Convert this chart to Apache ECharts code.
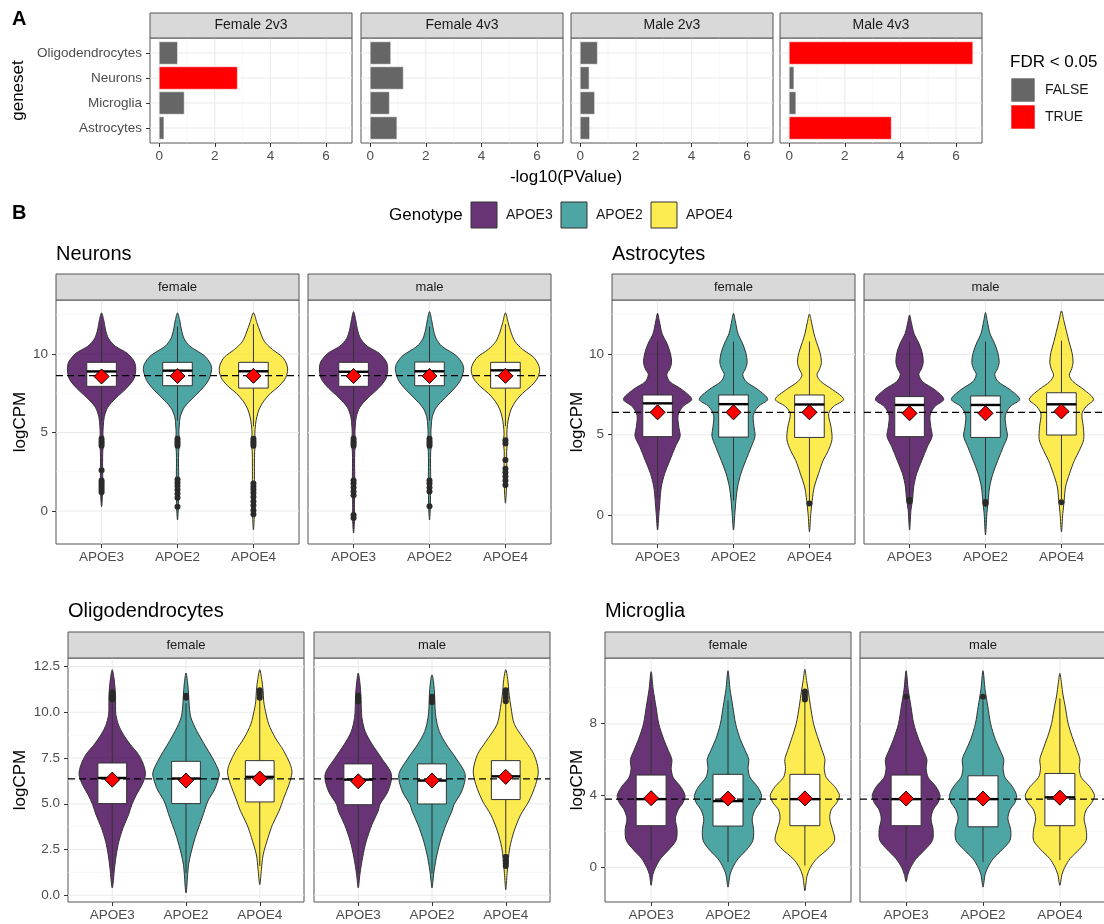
<!DOCTYPE html>
<html>
<head>
<meta charset="utf-8">
<script src="https://cdn.jsdelivr.net/npm/echarts@6/dist/echarts.min.js"></script>
<style>
  html, body { margin: 0; padding: 0; background: #ffffff; }
  #chart { width: 1104px; height: 924px; }
</style>
</head>
<body>
<div id="chart"></div>
<script>
// ---------------- Panel A: gene-set enrichment, -log10(PValue) ----------------
const genesets = ['Astrocytes', 'Microglia', 'Neurons', 'Oligodendrocytes']; // bottom -> top
const contrasts = ['Female 2v3', 'Female 4v3', 'Male 2v3', 'Male 4v3'];
const female2v3 = [0.17, 0.90, 2.81, 0.66];
const female4v3 = [0.96, 0.69, 1.19, 0.74];
const male2v3 = [0.34, 0.52, 0.32, 0.62];
const male4v3 = [3.67, 0.24, 0.17, 6.60];
const fdrFemale2v3 = [false, false, true, false];
const fdrFemale4v3 = [false, false, false, false];
const fdrMale2v3 = [false, false, false, false];
const fdrMale4v3 = [true, false, false, true];
const pvalTicks = [0, 2, 4, 6];
const pvalMinorTicks = [1, 3, 5];
const fdrLevels = ['FALSE', 'TRUE'];

// ---------------- Panel B: logCPM distributions by genotype ----------------
const genotypes = ['APOE3', 'APOE2', 'APOE4'];
const sexes = ['female', 'male'];

// Box stats per violin: [lower whisker, Q1, median, Q3, upper whisker]
// order: female APOE3, APOE2, APOE4, male APOE3, APOE2, APOE4
const neuronsBox = [
  [5.70, 7.94, 8.89, 9.47, 11.80],
  [5.75, 7.98, 8.94, 9.47, 11.75],
  [5.40, 7.83, 8.90, 9.47, 11.90],
  [5.70, 7.94, 8.87, 9.47, 11.80],
  [5.75, 7.98, 8.90, 9.49, 11.75],
  [5.40, 7.83, 8.96, 9.47, 11.90]
];
const neuronsMean = [8.57, 8.60, 8.61, 8.60, 8.60, 8.61];
const neuronsOverall = 8.62;
const neuronsOutliers = [
  [4.60, 4.45, 4.30, 4.15, 2.60, 1.95, 1.80, 1.65, 1.50, 1.35, 1.20],
  [4.60, 4.45, 4.30, 4.15, 2.00, 1.80, 1.60, 1.35, 1.10, 0.85, 0.28],
  [4.60, 4.45, 4.30, 4.15, 1.75, 1.55, 1.35, 1.15, 0.90, 0.60, 0.35, 0.05, -0.20],
  [4.60, 4.45, 4.30, 4.15, 1.95, 1.75, 1.50, 1.25, 1.00, -0.25, -0.45],
  [4.60, 4.45, 4.30, 4.15, 1.95, 1.75, 1.50, 1.25, 0.30],
  [4.50, 4.30, 3.25, 2.70, 2.45, 2.20, 1.95, 1.65]
];
// Violin outlines: [logCPM, relative half-width]
const neuronsViolin = [
  [[12.62,0],[12.2,0.06],[11.6,0.11],[11.0,0.2],[10.5,0.4],[10.05,0.75],[9.5,0.96],[9.0,1.0],[8.4,0.94],[7.8,0.72],[7.2,0.42],[6.6,0.18],[6.0,0.08],[5.4,0.05],[4.9,0.04],[4.4,0.06],[3.8,0.035],[3.0,0.03],[2.0,0.035],[1.2,0.03],[0.28,0]],
  [[12.62,0],[12.2,0.06],[11.6,0.11],[11.0,0.19],[10.5,0.36],[9.9,0.78],[9.4,0.96],[9.0,1.0],[8.3,0.9],[7.7,0.68],[7.2,0.45],[6.6,0.2],[6.0,0.08],[5.4,0.05],[4.9,0.04],[4.4,0.06],[3.8,0.035],[3.0,0.03],[2.0,0.035],[1.0,0.03],[0.0,0.02],[-0.57,0]],
  [[12.62,0],[12.0,0.1],[11.4,0.2],[10.8,0.32],[10.3,0.55],[9.8,0.85],[9.3,0.98],[8.9,1.0],[8.4,0.92],[7.9,0.72],[7.5,0.5],[7.0,0.3],[6.5,0.17],[6.0,0.1],[5.5,0.06],[4.9,0.04],[4.4,0.06],[3.8,0.035],[3.0,0.03],[2.0,0.03],[1.0,0.035],[0.0,0.03],[-1.2,0]],
  [[12.7,0],[12.2,0.06],[11.6,0.11],[11.0,0.2],[10.5,0.4],[10.05,0.75],[9.5,0.96],[9.0,1.0],[8.4,0.94],[7.8,0.72],[7.2,0.42],[6.6,0.18],[6.0,0.08],[5.4,0.05],[4.9,0.04],[4.4,0.06],[3.8,0.035],[3.0,0.03],[2.0,0.035],[1.2,0.03],[0.2,0.025],[-0.4,0.03],[-1.4,0]],
  [[12.7,0],[12.2,0.06],[11.6,0.11],[11.0,0.19],[10.5,0.36],[9.9,0.78],[9.4,0.96],[9.0,1.0],[8.3,0.9],[7.7,0.68],[7.2,0.45],[6.6,0.2],[6.0,0.08],[5.4,0.05],[4.9,0.04],[4.4,0.06],[3.8,0.035],[3.0,0.03],[2.0,0.035],[1.0,0.03],[0.0,0.02],[-0.57,0]],
  [[12.62,0],[12.0,0.08],[11.4,0.16],[10.8,0.28],[10.3,0.5],[9.8,0.82],[9.3,0.97],[8.9,1.0],[8.4,0.92],[7.9,0.72],[7.5,0.5],[7.0,0.3],[6.5,0.17],[6.0,0.1],[5.5,0.06],[4.9,0.04],[4.4,0.06],[3.8,0.035],[3.0,0.04],[2.2,0.04],[1.4,0.03],[0.5,0]]
];
const neuronsTicks = [0, 5, 10];
const neuronsMinorTicks = [2.5, 7.5, 12.5];

const astroBox = [
  [1.00, 4.88, 6.95, 7.47, 10.80],
  [0.90, 4.85, 6.90, 7.47, 10.80],
  [0.85, 4.83, 6.88, 7.47, 10.80],
  [1.15, 4.88, 6.85, 7.37, 10.75],
  [1.00, 4.83, 6.85, 7.41, 10.80],
  [1.00, 4.98, 6.89, 7.61, 10.85]
];
const astroMean = [6.39, 6.39, 6.39, 6.33, 6.33, 6.45];
const astroOverall = 6.39;
const astroOutliers = [[], [], [0.72], [0.95, 0.85], [0.82, 0.70], [0.80]];
const astroViolin = [
  [[12.55,0],[12.1,0.05],[11.3,0.13],[10.7,0.27],[10.1,0.37],[9.5,0.41],[9.1,0.36],[8.75,0.27],[8.3,0.36],[7.8,0.72],[7.2,1.0],[6.75,0.74],[6.2,0.6],[5.5,0.62],[4.9,0.66],[4.25,0.52],[3.4,0.36],[2.6,0.21],[1.75,0.11],[0.9,0.07],[0.1,0.04],[-0.93,0]],
  [[12.55,0],[12.1,0.05],[11.3,0.13],[10.7,0.26],[10.1,0.36],[9.5,0.4],[9.1,0.35],[8.75,0.27],[8.3,0.37],[7.8,0.72],[7.2,1.0],[6.75,0.72],[6.2,0.58],[5.5,0.6],[4.9,0.63],[4.25,0.52],[3.4,0.36],[2.6,0.22],[1.75,0.12],[0.9,0.07],[0.1,0.04],[-0.93,0]],
  [[12.5,0],[12.0,0.06],[11.3,0.13],[10.8,0.2],[10.1,0.31],[9.5,0.35],[9.1,0.3],[8.7,0.22],[8.3,0.34],[7.8,0.68],[7.2,1.0],[6.75,0.7],[6.3,0.56],[5.5,0.63],[4.7,0.66],[4.0,0.55],[3.4,0.4],[2.6,0.27],[1.75,0.14],[0.9,0.08],[0.1,0.04],[-1.04,0]],
  [[12.45,0],[12.0,0.05],[11.3,0.13],[10.7,0.27],[10.1,0.37],[9.5,0.4],[9.1,0.35],[8.75,0.27],[8.3,0.38],[7.8,0.74],[7.2,1.0],[6.75,0.74],[6.2,0.6],[5.5,0.62],[4.9,0.66],[4.25,0.52],[3.4,0.36],[2.6,0.21],[1.75,0.12],[1.0,0.09],[0.3,0.04],[-0.93,0]],
  [[12.6,0],[12.1,0.05],[11.3,0.13],[10.7,0.26],[10.1,0.36],[9.5,0.4],[9.1,0.35],[8.75,0.27],[8.3,0.37],[7.8,0.72],[7.2,1.0],[6.75,0.72],[6.2,0.58],[5.5,0.6],[4.9,0.64],[4.25,0.52],[3.4,0.36],[2.6,0.22],[1.75,0.12],[0.9,0.08],[0.1,0.04],[-1.24,0]],
  [[12.7,0],[12.1,0.07],[11.4,0.15],[10.8,0.22],[10.1,0.31],[9.5,0.34],[9.1,0.3],[8.7,0.23],[8.3,0.34],[7.8,0.66],[7.2,0.94],[6.75,0.72],[6.3,0.6],[5.5,0.64],[4.7,0.65],[4.0,0.52],[3.4,0.38],[2.6,0.24],[1.75,0.12],[0.9,0.08],[0.1,0.04],[-1.04,0]]
];
const astroTicks = [0, 5, 10];
const astroMinorTicks = [2.5, 7.5, 12.5];

const oligoBox = [
  [1.30, 5.01, 6.41, 7.23, 10.50],
  [1.20, 5.01, 6.38, 7.32, 10.50],
  [1.60, 5.10, 6.47, 7.36, 10.70],
  [1.20, 4.95, 6.32, 7.18, 10.50],
  [1.20, 4.99, 6.27, 7.18, 10.40],
  [2.30, 5.23, 6.50, 7.36, 10.50]
];
const oligoMean = [6.32, 6.27, 6.38, 6.23, 6.27, 6.47];
const oligoOverall = 6.36;
const oligoOutliers = [
  [10.70, 10.80, 10.90, 11.00, 11.10],
  [10.80, 10.90],
  [10.80, 10.95, 11.10, 11.20],
  [10.60, 10.75, 10.90],
  [10.55, 10.70, 10.85],
  [10.60, 10.80, 11.00, 11.20, 2.10, 1.90, 1.75, 1.60]
];
const oligoViolin = [
  [[12.33,0],[11.9,0.05],[11.4,0.08],[10.9,0.1],[10.3,0.1],[9.85,0.11],[9.3,0.19],[8.8,0.33],[8.25,0.54],[7.7,0.79],[7.15,0.94],[6.6,1.0],[6.05,0.9],[5.5,0.73],[4.95,0.59],[4.4,0.49],[3.7,0.33],[2.95,0.2],[2.2,0.12],[1.5,0.07],[0.4,0]],
  [[12.15,0],[11.6,0.05],[10.9,0.08],[10.3,0.1],[9.7,0.15],[9.0,0.32],[8.2,0.57],[7.5,0.8],[6.7,1.0],[6.2,0.95],[5.7,0.84],[5.15,0.66],[4.25,0.49],[3.5,0.34],[2.8,0.22],[1.7,0.08],[0.13,0]],
  [[12.33,0],[11.8,0.06],[11.2,0.1],[10.6,0.12],[10.25,0.15],[9.35,0.27],[8.6,0.47],[7.9,0.72],[7.15,0.92],[6.7,0.97],[6.05,0.88],[5.3,0.72],[4.6,0.58],[3.85,0.38],[3.15,0.25],[2.2,0.1],[1.4,0.05],[0.58,0]],
  [[12.15,0],[11.6,0.05],[10.9,0.08],[10.3,0.09],[9.7,0.11],[8.95,0.21],[8.25,0.42],[7.5,0.7],[6.6,1.0],[5.7,0.9],[4.95,0.65],[4.6,0.6],[3.85,0.41],[2.95,0.24],[2.05,0.13],[1.15,0.05],[0.4,0]],
  [[12.05,0],[11.6,0.05],[10.9,0.08],[10.3,0.09],[9.7,0.12],[8.95,0.22],[8.25,0.43],[7.5,0.72],[6.6,1.0],[5.7,0.9],[4.95,0.66],[4.6,0.6],[3.85,0.42],[2.95,0.25],[2.05,0.13],[1.15,0.05],[0.4,0]],
  [[12.33,0],[11.8,0.06],[11.0,0.1],[10.25,0.16],[9.35,0.26],[8.4,0.6],[7.7,0.85],[6.8,0.98],[6.05,0.9],[5.15,0.7],[4.4,0.45],[3.5,0.25],[2.6,0.12],[2.0,0.08],[1.2,0.04],[0.31,0]]
];
const oligoTicks = [0, 2.5, 5, 7.5, 10, 12.5];
const oligoMinorTicks = [1.25, 3.75, 6.25, 8.75, 11.25];

const microBox = [
  [0.40, 2.32, 3.80, 5.14, 9.30],
  [0.30, 2.30, 3.69, 5.18, 9.30],
  [0.10, 2.32, 3.80, 5.18, 9.20],
  [0.40, 2.32, 3.80, 5.14, 9.30],
  [0.30, 2.26, 3.80, 5.10, 9.30],
  [0.40, 2.32, 3.90, 5.23, 9.40]
];
const microMean = [3.85, 3.83, 3.84, 3.83, 3.83, 3.88];
const microOverall = 3.80;
const microOutliers = [[], [], [9.35, 9.50, 9.65, 9.80], [9.50], [9.50], []];
const microViolin = [
  [[10.9,0],[9.9,0.06],[8.95,0.14],[8.0,0.22],[7.1,0.37],[6.5,0.5],[6.0,0.6],[5.5,0.58],[5.0,0.64],[4.5,0.85],[4.0,0.98],[3.6,0.92],[3.2,0.78],[2.7,0.7],[2.1,0.75],[1.5,0.72],[1.0,0.52],[0.5,0.28],[0.0,0.13],[-0.4,0.05],[-1.0,0]],
  [[10.95,0],[9.9,0.06],[8.95,0.14],[8.0,0.22],[7.1,0.36],[6.5,0.5],[6.0,0.6],[5.5,0.58],[5.0,0.64],[4.5,0.85],[4.0,0.97],[3.6,0.92],[3.2,0.78],[2.7,0.7],[2.1,0.74],[1.5,0.72],[1.0,0.55],[0.5,0.3],[0.0,0.14],[-0.4,0.06],[-1.1,0]],
  [[11.03,0],[10.4,0.05],[9.8,0.1],[9.0,0.16],[8.0,0.25],[7.3,0.36],[6.5,0.5],[6.0,0.58],[5.5,0.56],[5.0,0.62],[4.5,0.86],[4.0,1.0],[3.6,0.92],[3.2,0.76],[2.7,0.72],[2.1,0.8],[1.5,0.86],[1.0,0.65],[0.5,0.35],[0.0,0.16],[-0.5,0.06],[-1.3,0]],
  [[10.95,0],[9.9,0.06],[8.95,0.14],[8.0,0.22],[7.1,0.37],[6.5,0.5],[6.0,0.6],[5.5,0.58],[5.0,0.64],[4.5,0.86],[4.0,0.98],[3.6,0.92],[3.2,0.78],[2.7,0.72],[2.1,0.78],[1.5,0.76],[1.0,0.55],[0.5,0.3],[0.0,0.13],[-0.4,0.05],[-0.8,0]],
  [[10.95,0],[9.9,0.06],[8.95,0.14],[8.0,0.22],[7.1,0.36],[6.5,0.5],[6.0,0.6],[5.5,0.58],[5.0,0.64],[4.5,0.85],[4.0,0.97],[3.6,0.92],[3.2,0.78],[2.7,0.72],[2.1,0.8],[1.5,0.78],[1.0,0.56],[0.5,0.3],[0.0,0.14],[-0.4,0.06],[-1.1,0]],
  [[10.8,0],[10.2,0.05],[9.6,0.09],[9.0,0.15],[8.0,0.24],[7.3,0.35],[6.5,0.5],[6.0,0.58],[5.5,0.56],[5.0,0.62],[4.5,0.86],[4.0,1.0],[3.6,0.92],[3.2,0.76],[2.7,0.7],[2.1,0.76],[1.5,0.76],[1.0,0.56],[0.5,0.3],[0.0,0.14],[-0.4,0.06],[-1.0,0]]
];
const microTicks = [0, 4, 8];
const microMinorTicks = [2, 6, 10];

// ---------------- styling ----------------
const FONT = '"Liberation Sans", Arial, Helvetica, sans-serif';
const GENO_FILLS = ['rgba(68,1,84,0.8)', 'rgba(33,144,140,0.8)', 'rgba(253,231,37,0.8)'];
const FDR_COLORS = ['#666666', '#FF0000'];
const GRID_MAJOR = '#ebebeb';
const GRID_MINOR = '#f3f3f3';
const BORDER = '#555555';
const STRIP_FILL = '#d9d9d9';
const VIOLIN_HALF = 0.45;
const BOX_HALF = 0.195;
const BAR_HALF = 0.45;
const TICK_FONT = 13.5;

const grids = [];
const xAxes = [];
const yAxes = [];
const series = [];
const graphics = [];

function addGrid(left, top, width, height) {
  grids.push({ left, top, width, height, show: true, borderColor: BORDER, borderWidth: 1,
    backgroundColor: 'transparent', containLabel: false, outerBoundsMode: 'none' });
  return grids.length - 1;
}

function valueAxis(gi, min, max, ticks, fmt, showLabels, showTicks, margin) {
  return {
    type: 'value', gridIndex: gi, min, max, scale: true,
    axisLine: { show: false, onZero: false },
    splitLine: { show: false },
    minorSplitLine: { show: false },
    axisTick: { show: showTicks, length: 4, customValues: ticks, lineStyle: { color: '#333333', width: 1 } },
    axisLabel: { show: showLabels, customValues: ticks, formatter: fmt, margin,
      color: '#4d4d4d', fontSize: TICK_FONT, fontFamily: FONT, hideOverlap: false }
  };
}

// background grid lines: kind 0 = x major, 1 = x minor, 2 = y major, 3 = y minor
function gridLineSeries(gi, xMajor, xMinor, yMajor, yMinor) {
  const data = [];
  xMinor.forEach(v => data.push([v, 1]));
  yMinor.forEach(v => data.push([v, 3]));
  xMajor.forEach(v => data.push([v, 0]));
  yMajor.forEach(v => data.push([v, 2]));
  return {
    type: 'custom', xAxisIndex: gi, yAxisIndex: gi, z: 1, silent: true, data,
    renderItem(params, api) {
      const cs = params.coordSys;
      const v = api.value(0), k = api.value(1);
      let shape;
      if (k < 2) {
        const x = api.coord([v, 0])[0];
        shape = { x1: x, y1: cs.y, x2: x, y2: cs.y + cs.height };
      } else {
        const y = api.coord([0, v])[1];
        shape = { x1: cs.x, y1: y, x2: cs.x + cs.width, y2: y };
      }
      const minor = k % 2 === 1;
      return { type: 'line', shape, style: { stroke: minor ? GRID_MINOR : GRID_MAJOR, lineWidth: minor ? 0.7 : 1.1 } };
    }
  };
}

function stripBox(left, top, width, height, label, size) {
  graphics.push({ type: 'rect', shape: { x: left, y: top, width, height },
    style: { fill: STRIP_FILL, stroke: BORDER, lineWidth: 1 }, z: 10 });
  graphics.push({ type: 'text', x: left + width / 2, y: top + height / 2, z: 11,
    style: { text: label, fill: '#1a1a1a', fontSize: size, fontFamily: FONT,
      align: 'center', verticalAlign: 'middle', textAlign: 'center', textVerticalAlign: 'middle' } });
}

function plainText(x, y, text, size, opts) {
  opts = opts || {};
  graphics.push({ type: 'text', x, y, rotation: opts.rotation || 0, z: 11,
    style: { text, fill: opts.color || '#000000', fontSize: size, fontFamily: FONT,
      fontWeight: opts.bold ? 'bold' : 'normal',
      align: opts.align || 'left', verticalAlign: 'middle',
      textAlign: opts.align || 'left', textVerticalAlign: 'middle' } });
}

// ---------------- Panel A ----------------
const contrastValues = [female2v3, female4v3, male2v3, male4v3];
const contrastFdr = [fdrFemale2v3, fdrFemale4v3, fdrMale2v3, fdrMale4v3];
const panelALefts = [150, 361, 571, 780];
const PA_TOP = 38, PA_H = 105, PA_W = 202;
const PA_XMIN = -0.33, PA_XMAX = 6.93;

contrasts.forEach((name, c) => {
  const gi = addGrid(panelALefts[c], PA_TOP, PA_W, PA_H);
  xAxes.push(valueAxis(gi, PA_XMIN, PA_XMAX, pvalTicks, v => String(v), true, true, 6));
  yAxes.push(valueAxis(gi, -0.6, 3.6, [0, 1, 2, 3], v => genesets[Math.round(v)], c === 0, c === 0, 8));
  series.push(gridLineSeries(gi, pvalTicks, pvalMinorTicks, [0, 1, 2, 3], []));
  const vals = contrastValues[c];
  const sig = contrastFdr[c];
  series.push({
    type: 'custom', xAxisIndex: gi, yAxisIndex: gi, z: 2, silent: true,
    data: vals.map((v, i) => [v, i]),
    renderItem(params, api) {
      const i = params.dataIndex;
      const p0 = api.coord([0, i + BAR_HALF]);
      const p1 = api.coord([vals[i], i - BAR_HALF]);
      return { type: 'rect', shape: { x: p0[0], y: p0[1], width: p1[0] - p0[0], height: p1[1] - p0[1] },
        style: { fill: FDR_COLORS[sig[i] ? 1 : 0], stroke: 'rgba(255,255,255,0.55)', lineWidth: 1 } };
    }
  });
  stripBox(panelALefts[c], 13, PA_W, 25, name, 14);
});

plainText(12, 19, 'A', 20, { bold: true });
plainText(18, PA_TOP + PA_H / 2, 'geneset', 17, { rotation: Math.PI / 2, align: 'center' });
plainText((panelALefts[0] + panelALefts[3] + PA_W) / 2, 177, '-log10(PValue)', 17, { align: 'center' });

// FDR legend
plainText(1010, 62, 'FDR < 0.05', 17);
fdrLevels.forEach((lab, i) => {
  const y = 78 + i * 27;
  graphics.push({ type: 'rect', shape: { x: 1011, y, width: 24, height: 24 },
    style: { fill: FDR_COLORS[i], stroke: 'rgba(255,255,255,0.55)', lineWidth: 1 }, z: 11 });
  plainText(1045, y + 12, lab, 14, { color: '#1a1a1a' });
});

// ---------------- Panel B ----------------
plainText(12, 213, 'B', 20, { bold: true });
plainText(389, 215, 'Genotype', 17);
const legendKeyX = [471, 561, 651];
genotypes.forEach((g, i) => {
  graphics.push({ type: 'rect', shape: { x: legendKeyX[i], y: 202, width: 26, height: 26 },
    style: { fill: GENO_FILLS[i], stroke: '#333333', lineWidth: 1 }, z: 11 });
  plainText(legendKeyX[i] + 35, 215, g, 14, { color: '#1a1a1a' });
});

const cellPanels = [
  { title: 'Neurons', titleX: 56, titleY: 254, lefts: [56, 308], width: 243, top: 300, height: 244,
    yMin: -2.10, yMax: 13.44, ticks: neuronsTicks, minor: neuronsMinorTicks, fmt: v => String(v),
    box: neuronsBox, mean: neuronsMean, overall: neuronsOverall, outliers: neuronsOutliers, violin: neuronsViolin, labelX: 20 },
  { title: 'Astrocytes', titleX: 612, titleY: 254, lefts: [612, 864], width: 243, top: 300, height: 244,
    yMin: -1.80, yMax: 13.38, ticks: astroTicks, minor: astroMinorTicks, fmt: v => String(v),
    box: astroBox, mean: astroMean, overall: astroOverall, outliers: astroOutliers, violin: astroViolin, labelX: 577 },
  { title: 'Oligodendrocytes', titleX: 68, titleY: 611, lefts: [68, 314], width: 236, top: 658, height: 244,
    yMin: -0.37, yMax: 12.97, ticks: oligoTicks, minor: oligoMinorTicks, fmt: v => v.toFixed(1),
    box: oligoBox, mean: oligoMean, overall: oligoOverall, outliers: oligoOutliers, violin: oligoViolin, labelX: 20 },
  { title: 'Microglia', titleX: 605, titleY: 611, lefts: [605, 860], width: 246, top: 658, height: 244,
    yMin: -1.93, yMax: 11.66, ticks: microTicks, minor: microMinorTicks, fmt: v => String(v),
    box: microBox, mean: microMean, overall: microOverall, outliers: microOutliers, violin: microViolin, labelX: 577 }
];

cellPanels.forEach(p => {
  plainText(p.titleX, p.titleY, p.title, 20);
  plainText(p.labelX, p.top + p.height / 2, 'logCPM', 17, { rotation: Math.PI / 2, align: 'center' });
  sexes.forEach((sex, s) => {
    const gi = addGrid(p.lefts[s], p.top, p.width, p.height);
    xAxes.push(valueAxis(gi, -0.6, 2.6, [0, 1, 2], v => genotypes[Math.round(v)], true, true, 6));
    yAxes.push(valueAxis(gi, p.yMin, p.yMax, p.ticks, p.fmt, s === 0, s === 0, 8));
    stripBox(p.lefts[s], p.top - 26, p.width, 26, sex, 13);

    const off = s * 3;
    const profiles = p.violin.slice(off, off + 3);
    const boxes = p.box.slice(off, off + 3);
    const means = p.mean.slice(off, off + 3);
    const outl = p.outliers.slice(off, off + 3);

    series.push(gridLineSeries(gi, [0, 1, 2], [], p.ticks, p.minor));

    // violins
    series.push({
      type: 'custom', xAxisIndex: gi, yAxisIndex: gi, z: 2, silent: true,
      data: profiles.map((pr, i) => [i, pr[0][0]]),
      renderItem(params, api) {
        const i = params.dataIndex;
        const pr = profiles[i];
        const right = pr.map(([v, w]) => api.coord([i + VIOLIN_HALF * w, v]));
        const left = pr.slice(1, -1).reverse().map(([v, w]) => api.coord([i - VIOLIN_HALF * w, v]));
        return { type: 'polygon', shape: { points: right.concat(left), smooth: 0.3 },
          style: { fill: GENO_FILLS[i], stroke: '#333333', lineWidth: 1 } };
      }
    });

    // box plots
    series.push({
      type: 'custom', xAxisIndex: gi, yAxisIndex: gi, z: 3, silent: true,
      data: boxes.map((b, i) => [i, b[2]]),
      renderItem(params, api) {
        const i = params.dataIndex;
        const [lo, q1, med, q3, hi] = boxes[i];
        const a = api.coord([i - BOX_HALF, q3]);
        const b = api.coord([i + BOX_HALF, q1]);
        const t = api.coord([i, hi]), u = api.coord([i, q3]), d = api.coord([i, q1]), bt = api.coord([i, lo]);
        const m1 = api.coord([i - BOX_HALF, med]), m2 = api.coord([i + BOX_HALF, med]);
        const lineStyle = { stroke: '#333333', lineWidth: 1 };
        return { type: 'group', children: [
          { type: 'line', shape: { x1: t[0], y1: t[1], x2: u[0], y2: u[1] }, style: lineStyle },
          { type: 'line', shape: { x1: d[0], y1: d[1], x2: bt[0], y2: bt[1] }, style: lineStyle },
          { type: 'rect', shape: { x: a[0], y: a[1], width: b[0] - a[0], height: b[1] - a[1] },
            style: { fill: '#ffffff', stroke: '#333333', lineWidth: 1 } },
          { type: 'line', shape: { x1: m1[0], y1: m1[1], x2: m2[0], y2: m2[1] },
            style: { stroke: '#000000', lineWidth: 2.4 } }
        ] };
      }
    });

    // outliers
    const outPts = [];
    outl.forEach((arr, i) => arr.forEach(v => outPts.push([i, v])));
    series.push({
      type: 'scatter', xAxisIndex: gi, yAxisIndex: gi, z: 4, silent: true,
      symbol: 'circle', symbolSize: 6, data: outPts,
      itemStyle: { color: '#2a2a2a', opacity: 1 }
    });

    // overall mean (dashed)
    series.push({
      type: 'custom', xAxisIndex: gi, yAxisIndex: gi, z: 5, silent: true,
      data: [[0, p.overall]],
      renderItem(params, api) {
        const cs = params.coordSys;
        const y = api.coord([0, api.value(1)])[1];
        return { type: 'line', shape: { x1: cs.x, y1: y, x2: cs.x + cs.width, y2: y },
          style: { stroke: '#000000', lineWidth: 1.3, lineDash: [7, 4] } };
      }
    });

    // group means
    series.push({
      type: 'scatter', xAxisIndex: gi, yAxisIndex: gi, z: 6, silent: true,
      symbol: 'diamond', symbolSize: 15,
      data: means.map((m, i) => [i, m]),
      itemStyle: { color: '#ff0000', borderColor: '#000000', borderWidth: 1, opacity: 1 }
    });
  });
});

const chart = echarts.init(document.getElementById('chart'), null, { renderer: 'canvas' });
chart.setOption({
  animation: false,
  backgroundColor: '#ffffff',
  textStyle: { fontFamily: FONT },
  grid: grids,
  xAxis: xAxes,
  yAxis: yAxes,
  series,
  graphic: { elements: graphics }
});
</script>
</body>
</html>
